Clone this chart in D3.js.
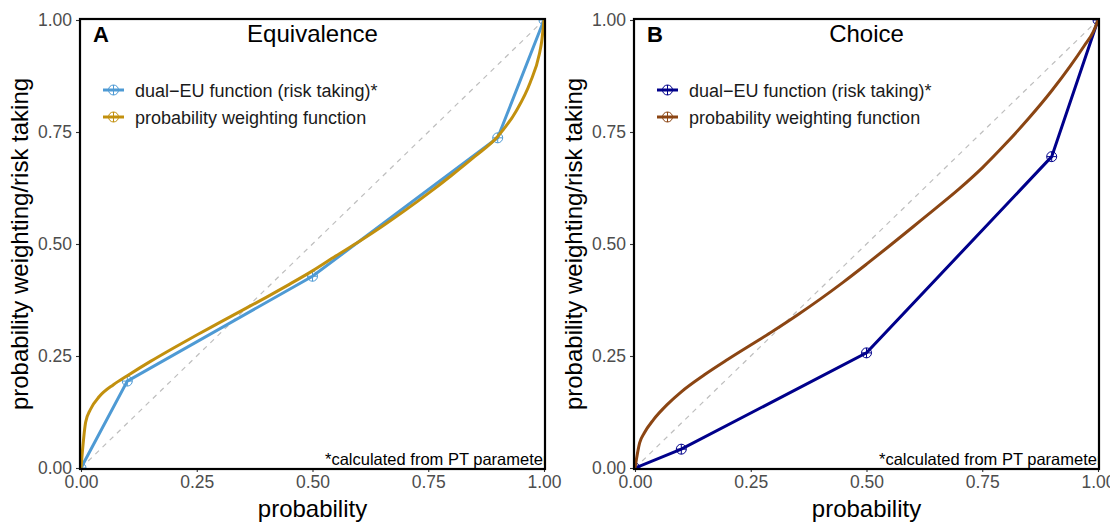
<!DOCTYPE html>
<html>
<head>
<meta charset="utf-8">
<script src="https://cdn.jsdelivr.net/npm/d3@7"></script>
<style>
  body { margin: 0; background: #fff; }
  svg { display: block; font-family: "Liberation Sans", Arial, Helvetica, sans-serif; }
</style>
</head>
<body>
<div id="chart"></div>
<script>
// probability grid of the dual-EU points
const dualP = [0, 0.1, 0.5, 0.9, 1];
const dualEquivalence = [0, 0.194, 0.428, 0.737, 1];
const dualChoice = [0, 0.042, 0.257, 0.695, 1];

// probability weighting function
const pwfP = [0, 0.01, 0.02, 0.04, 0.07, 0.1, 0.15, 0.2, 0.25, 0.3, 0.35, 0.4, 0.45, 0.5,
              0.55, 0.6, 0.65, 0.7, 0.75, 0.8, 0.85, 0.9, 0.94, 0.97, 0.99, 0.995, 1];
const pwfEquivalence = [0, 0.102, 0.130, 0.160, 0.186, 0.206, 0.238, 0.268, 0.297, 0.325, 0.353, 0.381, 0.410, 0.440,
                        0.473, 0.505, 0.539, 0.575, 0.613, 0.653, 0.695, 0.740, 0.797, 0.860, 0.924, 0.952, 1];
const pwfChoice = [0, 0.056, 0.078, 0.108, 0.142, 0.170, 0.208, 0.242, 0.2745, 0.307, 0.341, 0.377, 0.415, 0.455,
                   0.496, 0.538, 0.580, 0.623, 0.670, 0.723, 0.780, 0.842, 0.897, 0.942, 0.974, 0.986, 1];

const tickValues = [0, 0.25, 0.5, 0.75, 1];
const legendLabels = ["dual\u2212EU function (risk taking)*", "probability weighting function"];

const panels = [
    { tag: "A", title: "Equivalence", dual: dualEquivalence, pwf: pwfEquivalence, colors: ["#4e9ad4", "#c2900e"], left: 81 },
    { tag: "B", title: "Choice", dual: dualChoice, pwf: pwfChoice, colors: ["#00008b", "#8b4513"], left: 635 }
];

const W = 1110, H = 522;
const plotW = 463, plotTop = 20, plotBottom = 468;

const svg = d3.select("#chart").append("svg").attr("width", W).attr("height", H);

panels.forEach((pan, k) => {
    const x = d3.scaleLinear().domain([0, 1]).range([pan.left, pan.left + plotW]);
    const y = d3.scaleLinear().domain([0, 1]).range([plotBottom, plotTop]);

    const g = svg.append("g").classed("panel", true);

    // clip
    const clipId = "clip" + k;
    svg.append("clipPath").attr("id", clipId)
        .append("rect")
        .attr("x", x(0)).attr("y", y(1))
        .attr("width", x(1) - x(0)).attr("height", y(0) - y(1));

    // axes
    const yAxis = g.append("g")
        .attr("transform", `translate(${x(0) - 2},0)`)
        .call(d3.axisLeft(y).tickValues(tickValues).tickFormat(d3.format(".2f")).tickSize(3).tickPadding(4));
    const xAxis = g.append("g")
        .attr("transform", `translate(0,${y(0) + 1})`)
        .call(d3.axisBottom(x).tickValues(tickValues).tickFormat(d3.format(".2f")).tickSize(3).tickPadding(4));
    [yAxis, xAxis].forEach(a => {
        a.select(".domain").remove();
        a.selectAll(".tick line").attr("stroke", "#333").attr("stroke-width", 1.1);
        a.selectAll(".tick text").attr("fill", "#4d4d4d").style("font-size", "17.5px");
    });

    const inner = g.append("g").attr("clip-path", `url(#${clipId})`);

    // diagonal
    inner.append("line")
        .attr("x1", x(0)).attr("y1", y(0)).attr("x2", x(1)).attr("y2", y(1))
        .attr("stroke", "#bebebe").attr("stroke-width", 1.2).attr("stroke-dasharray", "5,5");

    const dualLine = d3.line().x((d, i) => x(dualP[i])).y(d => y(d));
    const pwfLine = d3.line().x((d, i) => x(pwfP[i])).y(d => y(d)).curve(d3.curveMonotoneX);

    inner.append("path").datum(pan.dual).attr("d", dualLine)
        .attr("fill", "none").attr("stroke", pan.colors[0]).attr("stroke-width", 3);

    // circle-plus markers
    const marker = (sel, cx, cy, col, r) => {
        const m = sel.append("g").attr("transform", `translate(${cx},${cy})`)
            .attr("stroke", col).attr("stroke-width", 1).attr("fill", "none");
        m.append("circle").attr("r", r);
        m.append("line").attr("x1", -r).attr("x2", r);
        m.append("line").attr("y1", -r).attr("y2", r);
    };
    pan.dual.forEach((v, i) => marker(inner, x(dualP[i]), y(v), pan.colors[0], 5));

    inner.append("path").datum(pan.pwf).attr("d", pwfLine)
        .attr("fill", "none").attr("stroke", pan.colors[1]).attr("stroke-width", 3);

    // annotation, clipped at the panel edge
    inner.append("text")
        .attr("x", pan.left + 244).attr("y", 465)
        .style("font-size", "16.5px").attr("fill", "#000")
        .text("*calculated from PT parameters");

    // border
    g.append("rect")
        .attr("x", x(0) - 1).attr("y", y(1) - 1)
        .attr("width", x(1) - x(0) + 2).attr("height", y(0) - y(1) + 2)
        .attr("fill", "none").attr("stroke", "#000").attr("stroke-width", 2.2);

    // tag + title
    g.append("text").attr("x", pan.left + 12).attr("y", 42)
        .style("font-size", "22px").style("font-weight", "bold").text(pan.tag);
    g.append("text").attr("x", (x(0) + x(1)) / 2).attr("y", 42)
        .attr("text-anchor", "middle").style("font-size", "24px").text(pan.title);

    // legend
    legendLabels.forEach((lab, i) => {
        const ly = 90 + i * 27;
        g.append("line").attr("x1", pan.left + 22).attr("x2", pan.left + 43)
            .attr("y1", ly).attr("y2", ly)
            .attr("stroke", pan.colors[i]).attr("stroke-width", 3);
        marker(g, pan.left + 32.5, ly, pan.colors[i], 5);
        g.append("text").attr("x", pan.left + 54).attr("y", ly + 6.5)
            .style("font-size", "18px").attr("fill", "#1a1a1a").text(lab);
    });

    // axis titles
    g.append("text").attr("x", (x(0) + x(1)) / 2).attr("y", 517)
        .attr("text-anchor", "middle").style("font-size", "24px").text("probability");
    g.append("text")
        .attr("transform", `translate(${pan.left - 53},${(plotTop + plotBottom) / 2}) rotate(-90)`)
        .attr("text-anchor", "middle").style("font-size", "24px")
        .text("probability weighting/risk taking");
});
</script>
</body>
</html>
